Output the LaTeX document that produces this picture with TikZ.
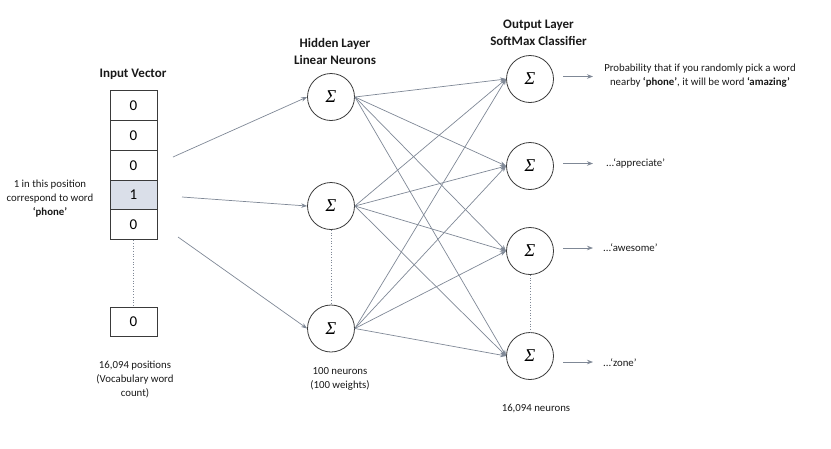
\documentclass[tikz,border=0pt]{standalone}
\usepackage{fontspec}
\setmainfont{Carlito}
\newfontfamily\sigmafont{Liberation Serif}
\usetikzlibrary{arrows.meta}
\definecolor{arr}{HTML}{7F8896}
\definecolor{cellfill}{HTML}{DADFE9}
\definecolor{edge}{HTML}{3A3A3A}
\newcommand{\sumsym}{{\sigmafont\itshape Σ}}
\begin{document}
\begin{tikzpicture}[x=1pt,y=-1pt,
 neuron/.style={circle, draw=edge, line width=0.8pt, minimum size=47pt, inner sep=0pt, font=\fontsize{18}{18}\selectfont},
 cell/.style={draw=edge, line width=0.9pt, minimum width=47pt, minimum height=29.8pt, inner sep=0pt, font=\fontsize{15}{15}\selectfont},
 conn/.style={draw=arr, line width=0.7pt, -{Stealth[length=6pt,width=4.5pt]}},
 dots/.style={draw=arr, dotted, line width=0.7pt},
 lbl/.style={font=\fontsize{10.8}{14}\selectfont, align=center, text=black!90, inner sep=0pt},
 ttl/.style={font=\bfseries\fontsize{13}{17.5}\selectfont, align=center, text=black!90, inner sep=0pt}
]
\useasboundingbox (0,0) rectangle (831,448);

% input vector
\node[cell] (c1) at (133.5,105.6) {0};
\node[cell] (c2) at (133.5,135.4) {0};
\node[cell] (c3) at (133.5,165.2) {0};
\node[cell, fill=cellfill] (c4) at (133.5,195.0) {1};
\node[cell] (c5) at (133.5,224.8) {0};
\node[cell] (c6) at (133.5,322) {0};
\draw[dots] (c5.south) -- (c6.north);

\node[ttl] (tin) at (133,74) {Input Vector};
\node[lbl] (lphone) at (50,198.5) {1 in this position\\correspond to word\\\textbf{‘phone’}};
\node[lbl] (lpos) at (135,380) {16,094 positions\\(Vocabulary word\\count)};

% hidden layer
\node[neuron] (h1) at (331,97) {\sumsym};
\node[neuron] (h2) at (331,206) {\sumsym};
\node[neuron] (h3) at (331,328.5) {\sumsym};
\draw[dots] (h2.south) -- (h3.north);
\node[ttl] (thid) at (335,51.5) {Hidden Layer\\Linear Neurons};
\node[lbl] (lhid) at (340,379) {100 neurons\\(100 weights)};

% output layer
\node[neuron] (o1) at (530,79) {\sumsym};
\node[neuron] (o2) at (530,166) {\sumsym};
\node[neuron] (o3) at (530,251) {\sumsym};
\node[neuron] (o4) at (530,356) {\sumsym};
\draw[dots] (o3.south) -- (o4.north);
\node[ttl] (tout) at (538.5,33) {Output Layer\\SoftMax Classifier};
\node[lbl] (lout) at (536,409) {16,094 neurons};

% input -> hidden
\coordinate (i1) at (173,157);
\coordinate (i2) at (182,197);
\coordinate (i3) at (178,237);
\draw[conn] (i1) -- (h1.west);
\draw[conn] (i2) -- (h2.west);
\draw[conn] (i3) -- (h3.west);

% hidden -> output
\foreach \h in {h1,h2,h3}{
  \foreach \o in {o1,o2,o3,o4}{
    \draw[conn] (\h.east) -- (\o.west);
  }
}

% outputs
\coordinate (r1a) at (563,76.5);  \coordinate (r1b) at (593,76.5);
\coordinate (r2a) at (563,163.5); \coordinate (r2b) at (593,163.5);
\coordinate (r3a) at (563,248);   \coordinate (r3b) at (593,248);
\coordinate (r4a) at (563,362);   \coordinate (r4b) at (593,362);
\draw[conn] (r1a) -- (r1b);
\draw[conn] (r2a) -- (r2b);
\draw[conn] (r3a) -- (r3b);
\draw[conn] (r4a) -- (r4b);

\node[lbl, font=\fontsize{10.8}{14.6}\selectfont] (p1) at (700,75.5) {Probability that if you randomly pick a word\\nearby \textbf{‘phone’}, it will be word \textbf{‘amazing’}};
\node[lbl, anchor=west] (p2) at (606,163) {...‘appreciate’};
\node[lbl, anchor=west] (p3) at (603,247.5) {...‘awesome’};
\node[lbl, anchor=west] (p4) at (603,363) {...‘zone’};
\end{tikzpicture}
\end{document}
